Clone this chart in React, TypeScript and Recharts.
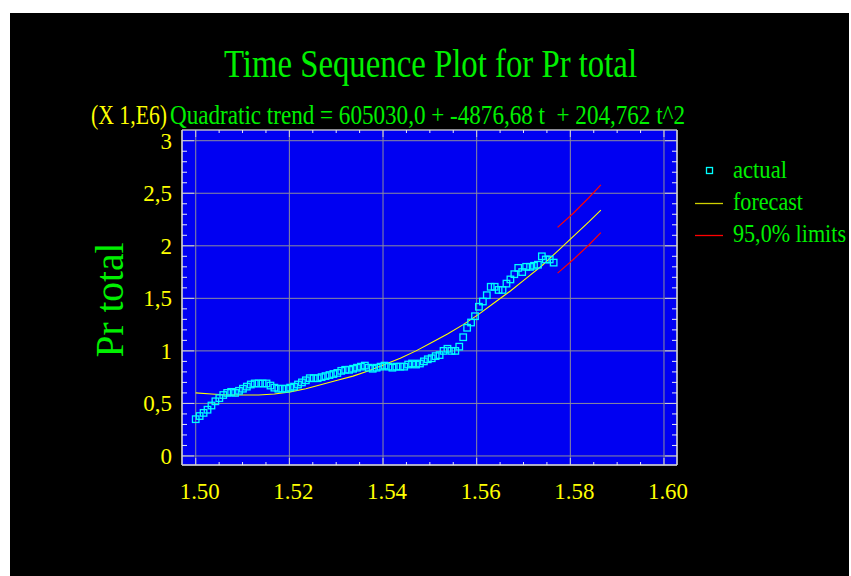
import React from "react";
import { CartesianGrid, ComposedChart, Line, XAxis, YAxis } from "recharts";

// time sequence, one value per period (x 1,E6)
const actualValues = [
  0.35, 0.38, 0.41, 0.44, 0.48, 0.52, 0.55, 0.58, 0.6, 0.61,
  0.6, 0.62, 0.64, 0.66, 0.68, 0.69, 0.69, 0.69, 0.69, 0.67,
  0.65, 0.64, 0.64, 0.64, 0.65, 0.66, 0.68, 0.7, 0.72, 0.74,
  0.74, 0.74, 0.75, 0.76, 0.77, 0.78, 0.79, 0.81, 0.82, 0.82,
  0.83, 0.84, 0.85, 0.86, 0.84, 0.83, 0.84, 0.85, 0.86, 0.85,
  0.84, 0.85, 0.85, 0.85, 0.87, 0.88, 0.87, 0.88, 0.9, 0.92,
  0.93, 0.95, 0.96, 1.0, 1.02, 1.0, 1.0, 1.04, 1.13, 1.22,
  1.27, 1.33, 1.42, 1.47, 1.53, 1.61, 1.61, 1.58, 1.58, 1.64,
  1.68, 1.73, 1.79, 1.75, 1.8, 1.8, 1.81, 1.82, 1.9, 1.87,
  1.87, 1.84,
];

const forecastPeriods = [
  0, 4, 8, 12, 16, 20, 24, 28, 32, 36, 40, 44, 48, 52, 56, 60, 64, 68, 72,
  76, 80, 84, 88, 92, 96, 100, 103,
];
const forecastValues = [
  0.6, 0.59, 0.58, 0.58, 0.58, 0.59, 0.61, 0.64, 0.68, 0.72, 0.76, 0.81,
  0.87, 0.93, 1.0, 1.08, 1.16, 1.25, 1.35, 1.46, 1.57, 1.69, 1.81, 1.95,
  2.09, 2.23, 2.34,
];

const limitPeriods = [92, 96, 100, 103];
const upperLimit = [2.175, 2.31, 2.46, 2.58];
const lowerLimit = [1.74, 1.87, 2.01, 2.125];

const xMajorTicks = [1.5, 1.52, 1.54, 1.56, 1.58, 1.6];
const xTickLabels = ["1.50", "1.52", "1.54", "1.56", "1.58", "1.60"];
const yMajorTicks = [0, 0.5, 1, 1.5, 2, 2.5, 3];
const yTickLabels = ["0", "0,5", "1", "1,5", "2", "2,5", "3"];

const X_START = 1.5;
const X_STEP = 0.00084;
const PERIODS = 104;

const BLUE = "#0000f2";
const GRID = "#8c8c9c";
const BORDER = "#d0d0d8";
const MINOR = "#e8e8f0";
const YELLOW = "#ffff00";
const GREEN = "#00f000";
const CYAN = "#00ffff";
const RED = "#ff0000";
const SERIF = "'Liberation Serif', 'Times New Roman', serif";

type Row = { x: number; actual?: number; forecast?: number; upper?: number; lower?: number };

const chartData: Row[] = Array.from({ length: PERIODS }, (_, i) => {
  const row: Row = { x: +(X_START + i * X_STEP).toFixed(5) };
  if (i < actualValues.length) row.actual = actualValues[i];
  const f = forecastPeriods.indexOf(i);
  if (f >= 0) row.forecast = forecastValues[f];
  const l = limitPeriods.indexOf(i);
  if (l >= 0) {
    row.upper = upperLimit[l];
    row.lower = lowerLimit[l];
  }
  return row;
});

// minor ticks: 3 between x majors, 4 between y majors
const xAllTicks: number[] = [];
xMajorTicks.forEach((v, i) => {
  xAllTicks.push(v);
  if (i < xMajorTicks.length - 1) {
    const next = xMajorTicks[i + 1];
    for (let k = 1; k < 4; k++) xAllTicks.push(+(v + ((next - v) * k) / 4).toFixed(4));
  }
});
const yAllTicks: number[] = [];
yMajorTicks.forEach((v, i) => {
  yAllTicks.push(v);
  if (i < yMajorTicks.length - 1) {
    const next = yMajorTicks[i + 1];
    for (let k = 1; k < 5; k++) yAllTicks.push(+(v + ((next - v) * k) / 5).toFixed(3));
  }
});

const majorIndex = (list: number[], v: number) =>
  list.findIndex((m) => Math.abs(m - v) < 1e-6);

const legendItems = [
  { name: "actual", kind: "square", color: CYAN, width: 54 },
  { name: "forecast", kind: "line", color: "#d0d000", width: 70 },
  { name: "95,0% limits", kind: "line", color: RED, width: 113 },
];

function BottomTick(props: any) {
  const { x, y, payload } = props;
  const m = majorIndex(xMajorTicks, payload.value);
  return (
    <g>
      <line x1={x} x2={x} y1={y} y2={y - (m >= 0 ? 7 : 3)} stroke={m >= 0 ? BORDER : MINOR} />
      {m >= 0 && (
        <text
          x={x + 4}
          y={y + 34}
          textAnchor="middle"
          fill={YELLOW}
          fontSize={24}
          fontFamily={SERIF}
          textLength={40}
          lengthAdjust="spacingAndGlyphs"
        >
          {xTickLabels[m]}
        </text>
      )}
    </g>
  );
}

function TopTick(props: any) {
  const { x, y, payload } = props;
  const m = majorIndex(xMajorTicks, payload.value);
  return <line x1={x} x2={x} y1={y} y2={y + (m >= 0 ? 7 : 3)} stroke={m >= 0 ? BORDER : MINOR} />;
}

function LeftTick(props: any) {
  const { x, y, payload } = props;
  const m = majorIndex(yMajorTicks, payload.value);
  return (
    <g>
      <line x1={x} x2={x + (m >= 0 ? 12 : 5)} y1={y} y2={y} stroke={m >= 0 ? BORDER : MINOR} />
      {m >= 0 && (
        <text
          x={x - 10}
          y={y}
          dy="0.34em"
          textAnchor="end"
          fill={YELLOW}
          fontSize={23}
          fontFamily={SERIF}
        >
          {yTickLabels[m]}
        </text>
      )}
    </g>
  );
}

function RightTick(props: any) {
  const { x, y, payload } = props;
  const m = majorIndex(yMajorTicks, payload.value);
  return <line x1={x} x2={x - (m >= 0 ? 12 : 5)} y1={y} y2={y} stroke={m >= 0 ? BORDER : MINOR} />;
}

function SquareDot(props: any) {
  const { cx, cy, index } = props;
  if (cx == null || cy == null || props.value == null) return <g key={`d${index}`} />;
  return (
    <rect
      key={`d${index}`}
      x={cx - 3.25}
      y={cy - 3.25}
      width={6.5}
      height={6.5}
      fill="none"
      stroke={CYAN}
      strokeWidth={1.3}
    />
  );
}

const X_DOMAIN = [1.49707, 1.60278];
const Y_DOMAIN = [-0.086, 3.102];

export default function App() {
  return (
    <div style={{ position: "absolute", left: 0, top: 0, width: 851, height: 576, background: "#fff" }}>
      <div style={{ position: "absolute", left: 10, top: 13, width: 839, height: 563, background: "#000" }} />
      <div style={{ position: "absolute", left: 0, top: 0 }}>
        <ComposedChart
          width={851}
          height={576}
          data={chartData}
          margin={{ top: 129, right: 173, bottom: 110, left: 181 }}
        >
          <XAxis
            xAxisId="b"
            dataKey="x"
            type="number"
            orientation="bottom"
            domain={X_DOMAIN}
            ticks={xAllTicks}
            interval={0}
            allowDataOverflow
            height={1}
            tickSize={0}
            tickMargin={0}
            tickLine={false}
            axisLine={{ stroke: BORDER, strokeWidth: 1.5 }}
            tick={<BottomTick />}
          />
          <XAxis
            xAxisId="t"
            dataKey="x"
            type="number"
            orientation="top"
            domain={X_DOMAIN}
            ticks={xAllTicks}
            interval={0}
            allowDataOverflow
            height={1}
            tickSize={0}
            tickMargin={0}
            tickLine={false}
            axisLine={{ stroke: BORDER, strokeWidth: 1 }}
            tick={<TopTick />}
          />
          <YAxis
            yAxisId="l"
            type="number"
            orientation="left"
            domain={Y_DOMAIN}
            ticks={yAllTicks}
            interval={0}
            allowDataOverflow
            width={1}
            tickSize={0}
            tickMargin={0}
            tickLine={false}
            axisLine={{ stroke: BORDER, strokeWidth: 1.5 }}
            tick={<LeftTick />}
          />
          <YAxis
            yAxisId="r"
            type="number"
            orientation="right"
            domain={Y_DOMAIN}
            ticks={yAllTicks}
            interval={0}
            allowDataOverflow
            width={1}
            tickSize={0}
            tickMargin={0}
            tickLine={false}
            axisLine={{ stroke: BORDER, strokeWidth: 1.5 }}
            tick={<RightTick />}
          />
          {/* hidden axes carrying only the major ticks, for the grid */}
          <XAxis
            xAxisId="g"
            dataKey="x"
            type="number"
            domain={X_DOMAIN}
            ticks={xMajorTicks}
            allowDataOverflow
            height={0}
            hide
          />
          <YAxis
            yAxisId="g"
            type="number"
            domain={Y_DOMAIN}
            ticks={yMajorTicks}
            allowDataOverflow
            width={0}
            hide
          />
          <CartesianGrid xAxisId="g" yAxisId="g" fill={BLUE} fillOpacity={1} stroke={GRID} strokeWidth={1} />
          <Line
            xAxisId="b"
            yAxisId="l"
            dataKey="forecast"
            stroke={YELLOW}
            strokeWidth={1.1}
            dot={false}
            connectNulls
            type="linear"
            isAnimationActive={false}
          />
          <Line
            xAxisId="b"
            yAxisId="l"
            dataKey="upper"
            stroke={RED}
            strokeWidth={1.2}
            dot={false}
            connectNulls
            isAnimationActive={false}
          />
          <Line
            xAxisId="b"
            yAxisId="l"
            dataKey="lower"
            stroke={RED}
            strokeWidth={1.2}
            dot={false}
            connectNulls
            isAnimationActive={false}
          />
          <Line
            xAxisId="b"
            yAxisId="l"
            dataKey="actual"
            stroke="none"
            dot={<SquareDot />}
            activeDot={false}
            isAnimationActive={false}
          />
        </ComposedChart>
      </div>
      <svg
        width={851}
        height={576}
        style={{ position: "absolute", left: 0, top: 0, pointerEvents: "none" }}
        fontFamily={SERIF}
      >
        <text x={430.5} y={77} textAnchor="middle" fill={GREEN} fontSize={39} textLength={413} lengthAdjust="spacingAndGlyphs">
          Time Sequence Plot for Pr total
        </text>
        <text x={91} y={124} fill={YELLOW} fontSize={27} textLength={76} lengthAdjust="spacingAndGlyphs">
          (X 1,E6)
        </text>
        <text
          x={170}
          y={124}
          fill={GREEN}
          fontSize={27}
          textLength={515}
          lengthAdjust="spacingAndGlyphs"
          style={{ whiteSpace: "pre" }}
        >
          {"Quadratic trend = 605030,0 + -4876,68 t  + 204,762 t^2"}
        </text>
        <text
          transform="translate(123 300) rotate(-90)"
          textAnchor="middle"
          fill={GREEN}
          fontSize={40}
          textLength={115}
          lengthAdjust="spacingAndGlyphs"
        >
          Pr total
        </text>
        {legendItems.map((it, i) => {
          const cy = 171 + i * 32;
          return (
            <g key={it.name}>
              {it.kind === "square" ? (
                <rect x={706.5} y={cy - 3.5} width={6} height={6} fill="none" stroke={it.color} strokeWidth={1.3} />
              ) : (
                <line x1={695} x2={723} y1={cy + 0.5} y2={cy + 0.5} stroke={it.color} strokeWidth={1.3} />
              )}
              <text
                x={733}
                y={cy + 7}
                fill={GREEN}
                fontSize={25}
                textLength={it.width}
                lengthAdjust="spacingAndGlyphs"
              >
                {it.name}
              </text>
            </g>
          );
        })}
      </svg>
    </div>
  );
}
